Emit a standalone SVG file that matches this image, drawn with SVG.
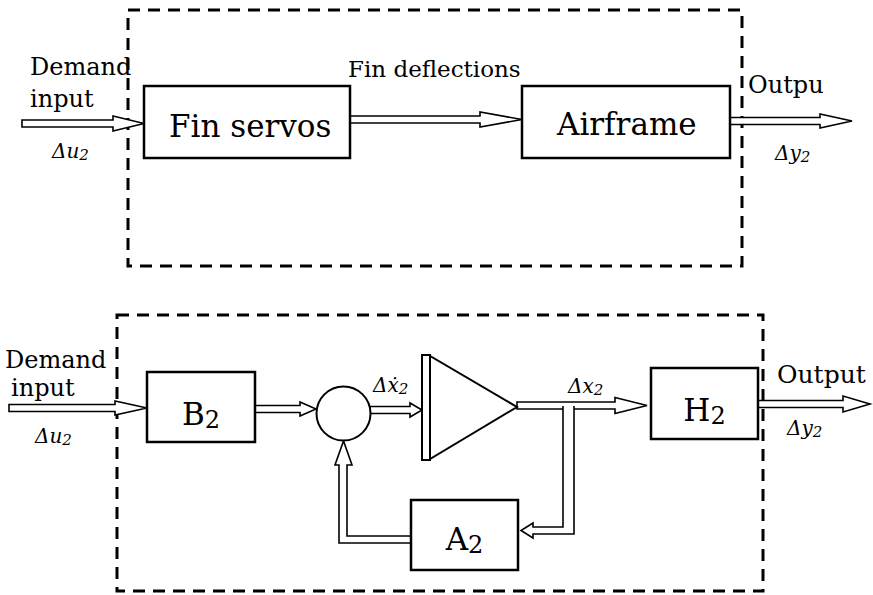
<svg xmlns="http://www.w3.org/2000/svg" width="873" height="595" viewBox="0 0 873 595">
<style>
.dash{fill:none;stroke:#000;stroke-width:3;stroke-dasharray:12 8}
.box{fill:#fff;stroke:#000;stroke-width:2.5}
.pipe{fill:#fff;stroke:#000;stroke-width:1.6;stroke-linejoin:miter}
.t{font-family:"DejaVu Serif","Liberation Serif",serif;fill:#000}
.i{font-family:"DejaVu Serif","Liberation Serif",serif;font-style:italic;fill:#000;font-size:20px}
</style>
<rect width="873" height="595" fill="#fff"/>
<g id="frames">
<rect class="dash" x="128" y="10" width="614" height="256"/>
<rect class="dash" x="117" y="315" width="646" height="276"/>
</g>
<g id="connectors">
<polygon class="pipe" points="22,120 113,120 113,116 144,123.5 113,131 113,127 22,127"/>
<polygon class="pipe" points="350,116 480,116 480,112 522,119.5 480,127 480,123 350,123"/>
<polygon class="pipe" points="730,117.5 820,117.5 820,114 852,121 820,128 820,124.5 730,124.5"/>
<polygon class="pipe" points="9,404.5 115,404.5 115,401 147,408 115,415 115,411.5 9,411.5"/>
<polygon class="pipe" points="255,405.5 300,405.5 300,402 316,409 300,416 300,412.5 255,412.5"/>
<polygon class="pipe" points="370,406.5 410,406.5 410,403 422,410 410,417 410,413.5 370,413.5"/>
<polygon class="pipe" points="517,402 615,402 615,397.5 647,405.5 615,413.5 615,409 517,409"/>
<path class="pipe" d="M563,406 L563,527 L533,527 L533,523 L521,530.5 L533,538 L533,534 L574,534 L574,406"/>
<path class="pipe" d="M411,536 L347,536 L347,465 L352,465 L343.5,441 L335,465 L339,465 L339,543 L411,543"/>
<polygon class="pipe" points="758,400.5 843,400.5 843,396 870,404 843,412 843,407.5 758,407.5"/>
</g>
<g id="fin-servos">
<rect class="box" x="144" y="86" width="206" height="72"/>
<text class="t" x="169" y="137" font-size="31">Fin servos</text>
</g>
<g id="airframe">
<rect class="box" x="522" y="86" width="208" height="72"/>
<text class="t" x="557" y="135" font-size="31">Airframe</text>
</g>
<g id="b2">
<rect class="box" x="147" y="372" width="108" height="70"/>
<text class="t" x="201" y="425" font-size="31" text-anchor="middle">B<tspan font-size="24" dy="3">2</tspan></text>
</g>
<g id="sum">
<circle cx="343.5" cy="413.5" r="27" fill="#fff" stroke="#000" stroke-width="2"/>
</g>
<g id="integrator">
<rect x="422" y="355" width="8" height="105" fill="#fff" stroke="#000" stroke-width="2"/>
<polygon points="430,356 430,459 517,407" fill="#fff" stroke="#000" stroke-width="2"/>
</g>
<g id="h2">
<rect class="box" x="651" y="368" width="107" height="71"/>
<text class="t" x="704.5" y="421" font-size="31" text-anchor="middle">H<tspan font-size="24" dy="3">2</tspan></text>
</g>
<g id="a2">
<rect class="box" x="411" y="500" width="107" height="70"/>
<text class="t" x="464.5" y="550" font-size="31" text-anchor="middle">A<tspan font-size="24" dy="3">2</tspan></text>
</g>
<g id="labels">
<text class="t" x="30" y="75" font-size="24">Demand</text>
<text class="t" x="30" y="107" font-size="24">input</text>
<text class="i" x="52" y="158">Δu<tspan font-size="15" dy="2">2</tspan></text>
<text class="t" x="348" y="77" font-size="23">Fin deflections</text>
<text class="t" x="748" y="93" font-size="24">Outpu</text>
<text class="i" x="775" y="160">Δy<tspan font-size="15" dy="2">2</tspan></text>
<text class="t" x="5" y="368" font-size="24">Demand</text>
<text class="t" x="11" y="396" font-size="24">input</text>
<text class="i" x="35" y="443">Δu<tspan font-size="15" dy="2">2</tspan></text>
<text class="i" x="373" y="392">Δẋ<tspan font-size="15" dy="2">2</tspan></text>
<text class="i" x="568" y="393">Δx<tspan font-size="15" dy="2">2</tspan></text>
<text class="t" x="777" y="383" font-size="25">Output</text>
<text class="i" x="787" y="435">Δy<tspan font-size="15" dy="2">2</tspan></text>
</g>
</svg>
